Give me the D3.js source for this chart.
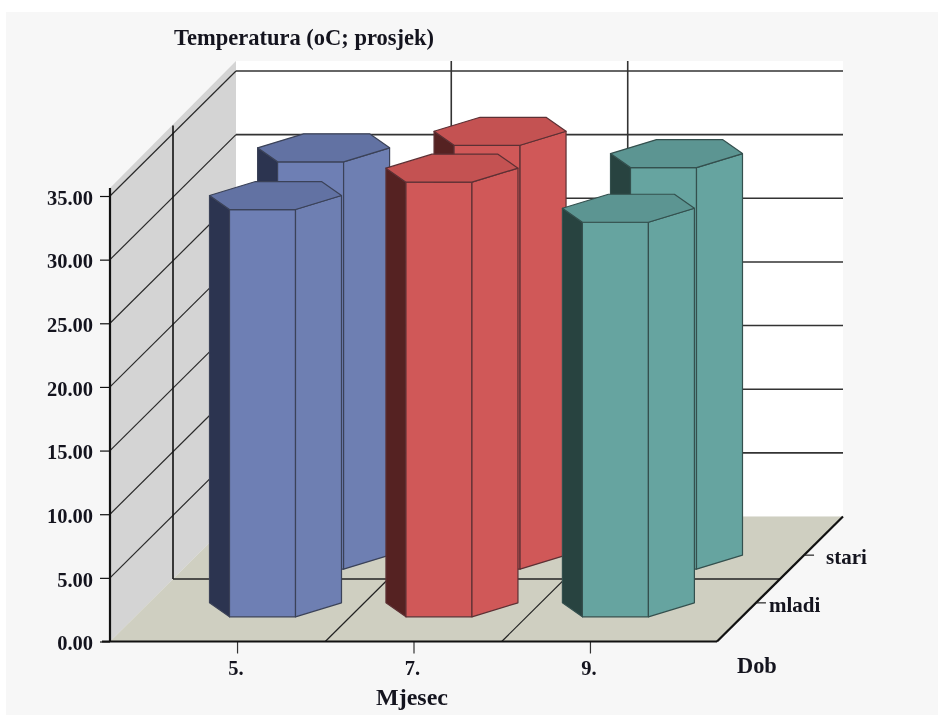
<!DOCTYPE html>
<html><head><meta charset="utf-8">
<script src="https://cdn.jsdelivr.net/npm/d3@7/dist/d3.min.js"></script>
<style>
html,body{margin:0;padding:0;background:#fff;}
svg{display:block;filter:blur(0.45px);}
text{font-family:"Liberation Serif","Times New Roman",serif;font-weight:bold;fill:#14141e;}
</style></head><body>
<div id="chart"></div>
<script>
const months = ["5.", "7.", "9."];
const ageGroups = ["mladi", "stari"];
const tempYoung = [32.0, 34.15, 31.0];
const tempOld = [32.0, 33.3, 31.55];
const yTicks = [0, 5, 10, 15, 20, 25, 30, 35];
const titleText = "Temperatura (oC; prosjek)";
const xTitleText = "Mjesec";
const zTitleText = "Dob";
const faceColors = [
  {front:"#6e7fb4", right:"#6e7fb2", top:"#6272a3", left:"#2c3450", edge:"#3b4258"},
  {front:"#d05858", right:"#d05858", top:"#c45252", left:"#552222", edge:"#5c3034"},
  {front:"#66a4a0", right:"#66a4a0", top:"#5c9592", left:"#284340", edge:"#34504e"}
];

const W = 938, H = 715;
const svg = d3.select("#chart").append("svg").attr("width", W).attr("height", H);
const x = d3.scalePoint().domain(months).range([110, 717]).padding(0.72);
const y = d3.scaleLinear().domain([0, 35]).range([641.5, 196]);
const z = d3.scalePoint().domain(ageGroups).range([0, 126]).padding(0.81);
const depth = 126, depthY = 125;
const step = x.step();
const xL = x.range()[0], xR = x.range()[1];
const y0 = y(0);
const yTop = y(35);
const lift = d => d * depthY / depth;
const line = (g, x1, y1, x2, y2, w, c) => g.append("line")
  .attr("x1", x1).attr("y1", y1).attr("x2", x2).attr("y2", y2)
  .attr("stroke", c || "#222").attr("stroke-width", w || 1.2);

svg.append("rect").attr("x", 6).attr("y", 12).attr("width", W).attr("height", H).attr("fill", "#f7f7f7");

const back = svg.append("g");
// back wall
back.append("rect").attr("x", xL + depth).attr("y", yTop - depthY - 10)
  .attr("width", xR - xL).attr("height", y0 - yTop + 10).attr("fill", "#fff");
// left wall
back.append("polygon")
  .attr("points", [[xL, y0], [xL + depth, y0 - depthY], [xL + depth, yTop - depthY - 10], [xL, yTop - 8]].join(" "))
  .attr("fill", "#d4d4d4");
// floor
back.append("polygon")
  .attr("points", [[xL, y0], [xR, y0], [xR + depth, y0 - depthY], [xL + depth, y0 - depthY]].join(" "))
  .attr("fill", "#cfcfc1");

// grid lines
yTicks.forEach(t => {
  if (t > 0) {
    line(back, xL, y(t), xL + depth, y(t) - depthY, 1.2, "#2a2a2a");
    line(back, xL + depth, y(t) - depthY, xR + depth, y(t) - depthY, 1.6, "#333");
  }
});
// vertical dividers on the back wall and floor lines
[1, 2].forEach(i => {
  const bx = x(months[0]) + step * (i - 0.5);
  line(back, bx, y0, bx + depth, y0 - depthY, 1.2, "#222");
  line(back, bx + depth, y0 - depthY, bx + depth, yTop - depthY - 10, 1.6, "#333");
});
// middle depth divider
const mid = depth / 2;
line(back, xL + mid, y0 - lift(mid), xL + mid, yTop - lift(mid) - 8, 1.6, "#111");
line(back, xL + mid, y0 - lift(mid), xR + mid, y0 - lift(mid), 1.6, "#222");

// prisms
const hexW = 46, hexSide = 20, hexDepth = 14;
function hex(cx, cy) {
  return {
    l: [cx - hexW - hexSide, cy],
    fl: [cx - hexW, cy + hexDepth],
    fr: [cx + hexSide, cy + hexDepth],
    r: [cx + hexW + hexSide, cy],
    br: [cx + hexW, cy - hexDepth],
    bl: [cx - hexSide, cy - hexDepth]
  };
}
function prism(g, mon, age, val, c) {
  const d = z(age);
  const cx = x(mon) + d - 0.5;
  const b = hex(cx, y0 - lift(d));
  const t = hex(cx, y(val) - lift(d));
  const poly = (pts, fill) => g.append("polygon").attr("points", pts.join(" "))
    .attr("fill", fill).attr("stroke", c.edge).attr("stroke-width", 1.2).attr("stroke-linejoin", "round");
  poly([t.l, t.fl, b.fl, b.l], c.left);
  poly([t.fl, t.fr, b.fr, b.fl], c.front);
  poly([t.fr, t.r, b.r, b.fr], c.right);
  poly([t.l, t.fl, t.fr, t.r, t.br, t.bl], c.top);
}
const bars = svg.append("g");
[[ageGroups[1], tempOld], [ageGroups[0], tempYoung]].forEach(([age, vals]) => {
  months.forEach((m, i) => prism(bars, m, age, vals[i], faceColors[i]));
});

// axes
const axes = svg.append("g");
const yAxis = axes.append("g").attr("transform", `translate(${xL},0)`)
  .call(d3.axisLeft(y).tickValues(yTicks).tickFormat(d3.format(".2f")).tickSize(10).tickPadding(7));
yAxis.select(".domain").remove();
yAxis.selectAll(".tick line").attr("stroke", "#111").attr("stroke-width", 1.2);
yAxis.selectAll("text").style("font-size", "20.5px").attr("font-family", null).attr("dy", "0.4em");
line(axes, xL, y0, xL, yTop - 8, 2.2, "#111");

const xAxis = axes.append("g").attr("transform", `translate(0,${y0})`)
  .call(d3.axisBottom(x).tickSize(12).tickPadding(7));
xAxis.select(".domain").remove();
xAxis.selectAll(".tick line").attr("stroke", "#333").attr("stroke-width", 1.2);
xAxis.selectAll("text").style("font-size", "20.5px").attr("x", -1.5);
line(axes, xL - 8, y0, xR, y0, 2.2, "#111");
line(axes, xR, y0, xR + depth, y0 - depthY, 2.2, "#111");

ageGroups.forEach(a => {
  const d = z(a), px = xR + d, py = y0 - lift(d);
  line(axes, px, py, px + 10, py, 1.2, "#222");
  axes.append("text").attr("x", px + (a === "mladi" ? 13 : 22)).attr("y", py + 2)
    .attr("dy", "0.32em").style("font-size", "21px").text(a);
});

svg.append("text").attr("x", 174).attr("y", 45).style("font-size", "22.5px").text(titleText);
svg.append("text").attr("x", 376).attr("y", 705).style("font-size", "24px").text(xTitleText);
svg.append("text").attr("x", 737).attr("y", 673).style("font-size", "22.4px").text(zTitleText);
</script>
</body></html>
